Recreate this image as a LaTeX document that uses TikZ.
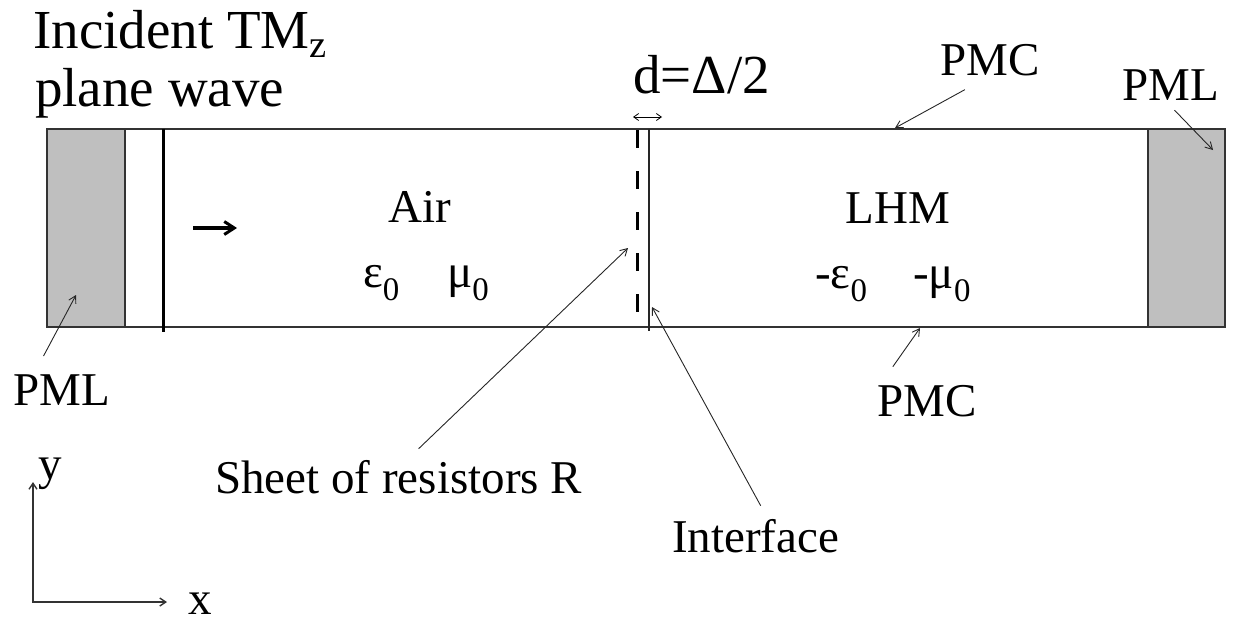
\documentclass[tikz,border=0pt]{standalone}
\usepackage{fontspec}
\setmainfont{Liberation Serif}
\usetikzlibrary{arrows.meta}

\begin{document}
\begin{tikzpicture}[x=1pt, y=-1pt, every node/.style={inner sep=0pt},
  lbl/.style={font=\fontsize{47}{50}\selectfont, anchor=base west},
  big/.style={font=\fontsize{55}{60}\selectfont, anchor=base west},
  pointer/.style={-{Straight Barb[length=7pt, width=8pt]}, line width=0.9pt, draw=black!85},
  pmlbox/.style={fill=black!25, draw=black!80, line width=1.6pt}]
  \useasboundingbox (0,0) rectangle (1233,625);

  % Title
  \node[big] (title) at (33, 48) {Incident TM\textsubscript{z}};
  \node[big] (plane) at (35, 106) {plane wave};

  % Domain with PML layers
  \draw[pmlbox] (47, 129) rectangle (125, 327);
  \draw[pmlbox] (1148, 129) rectangle (1225, 327);
  \draw[draw=black!80, line width=1.6pt] (125, 129) -- (1148, 129);
  \draw[draw=black!80, line width=1.6pt] (125, 327) -- (1148, 327);

  % Source plane and wave direction
  \draw[line width=3pt] (163, 129) -- (163, 332);
  \coordinate (kstart) at (193, 228);
  \coordinate (kend) at (237, 228);
  \draw[-{Straight Barb[length=10pt, width=13pt, line width=3pt]}, line width=3.6pt] (kstart) -- (kend);

  % Sheet of resistors and interface
  \draw[line width=3pt, dash pattern=on 18pt off 23pt] (637, 130) -- (637, 327);
  \draw[draw=black!85, line width=1.6pt] (649, 129) -- (649, 331);

  % Offset d
  \node[big] (dist) at (633, 93) {d=Δ/2};
  \coordinate (dleft) at (633, 117);
  \coordinate (dright) at (662, 117);
  \draw[{Straight Barb[length=5pt, width=7pt]}-{Straight Barb[length=5pt, width=7pt]}, line width=0.8pt] (dleft) -- (dright);

  % Media
  \node[lbl, anchor=base] (air) at (420, 222) {Air};
  \node[lbl] (eps) at (363, 287) {ε\textsubscript{0}};
  \node[lbl] (mu) at (447, 287) {μ\textsubscript{0}};
  \node[lbl, anchor=base] (lhm) at (898, 223) {LHM};
  \node[lbl] (meps) at (815, 288) {-ε\textsubscript{0}};
  \node[lbl] (mmu) at (913, 288) {-μ\textsubscript{0}};

  % Labels with pointers
  \node[lbl] (pmctop) at (940, 75) {PMC};
  \node[lbl] (pmcbot) at (877, 416) {PMC};
  \node[lbl] (pmlright) at (1122, 100) {PML};
  \node[lbl] (pmlleft) at (13, 405) {PML};
  \node[lbl] (sheet) at (215, 493) {Sheet of resistors R};
  \node[lbl] (iface) at (672, 552) {Interface};

  \coordinate (pmctoptip) at (895, 128);
  \coordinate (pmcbottip) at (920, 328);
  \coordinate (pmlrighttip) at (1213, 150);
  \coordinate (pmllefttip) at (76, 295);
  \coordinate (sheettip) at (628, 248);
  \coordinate (ifacetip) at (652, 307);

  \draw[pointer] ([xshift=-25pt, yshift=-14pt]pmctop.south) -- (pmctoptip);
  \draw[pointer] ([xshift=-34pt, yshift=18pt]pmcbot.north) -- (pmcbottip);
  \draw[pointer] ([xshift=4pt, yshift=-10pt]pmlright.south) -- (pmlrighttip);
  \draw[pointer] ([xshift=-18pt, yshift=18pt]pmlleft.north) -- (pmllefttip);
  \draw[pointer] ([xshift=20pt, yshift=11pt]sheet.north) -- (sheettip);
  \draw[pointer] ([xshift=5pt, yshift=13pt]iface.north) -- (ifacetip);

  % Axes
  \coordinate (origin) at (33, 602);
  \coordinate (ytip) at (33, 482);
  \coordinate (xtip) at (167, 602);
  \draw[{Straight Barb[length=6pt, width=8pt]}-{Straight Barb[length=6pt, width=8pt]}, line width=1.4pt, draw=black!80] (ytip) -- (origin) -- (xtip);
  \node[lbl] (ylbl) at (38, 479) {y};
  \node[lbl] (xlbl) at (188, 614) {x};
\end{tikzpicture}
\end{document}
